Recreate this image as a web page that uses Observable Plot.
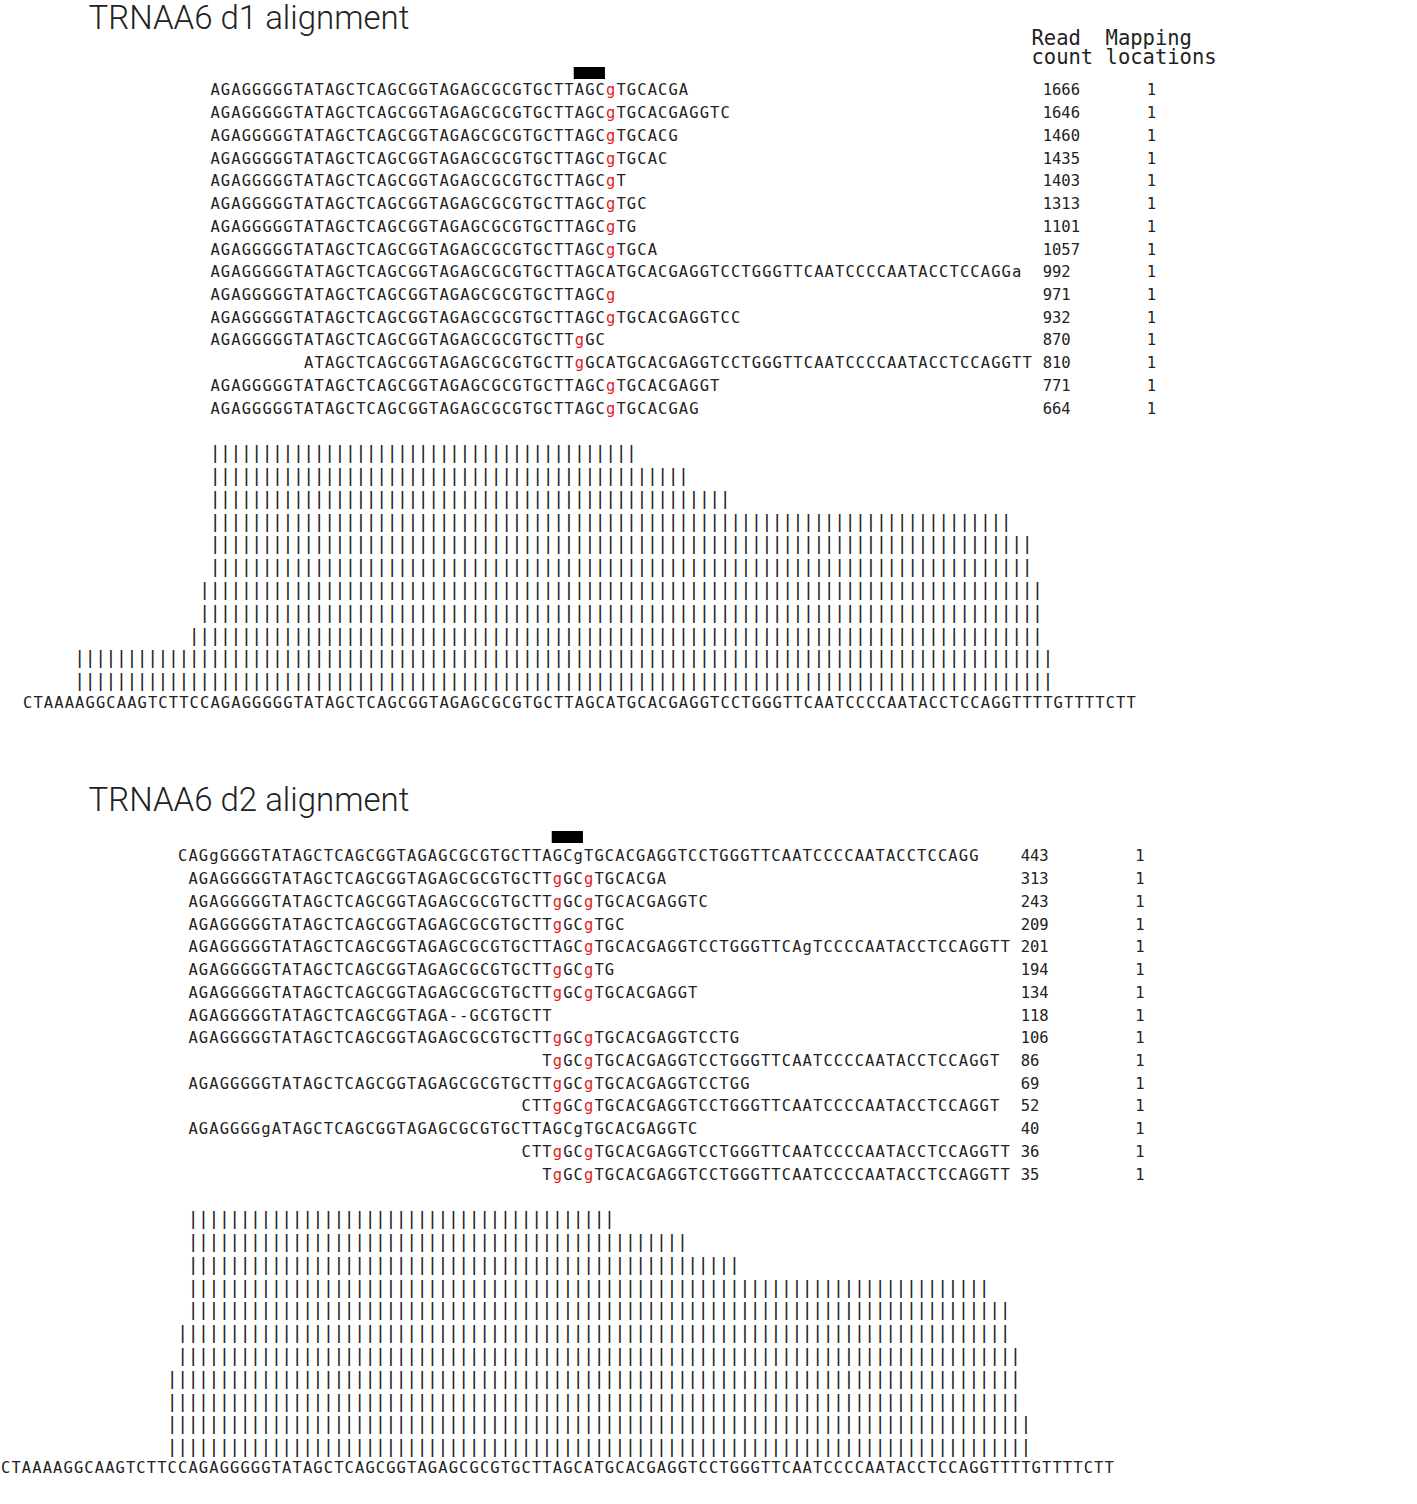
<!DOCTYPE html>
<html><head><meta charset="utf-8">
<script src="https://cdn.jsdelivr.net/npm/d3@7"></script>
<script src="https://cdn.jsdelivr.net/npm/@observablehq/plot@0.6"></script>
<style>body{margin:0;background:#fff}</style>
</head><body><div id="chart"></div>
<script>
// reference sequence shared by both panels
const refSeq = "CTAAAAGGCAAGTCTTCCAGAGGGGGTATAGCTCAGCGGTAGAGCGCGTGCTTAGCATGCACGAGGTCCTGGGTTCAATCCCCAATACCTCCAGGTTTTGTTTTCTT";
const redCols = [53, 56];     // mismatch columns drawn in red
const markCols = [53, 56];    // black box above the reads

const d1Reads = [
  "AGAGGGGGTATAGCTCAGCGGTAGAGCGCGTGCTTAGCgTGCACGA",
  "AGAGGGGGTATAGCTCAGCGGTAGAGCGCGTGCTTAGCgTGCACGAGGTC",
  "AGAGGGGGTATAGCTCAGCGGTAGAGCGCGTGCTTAGCgTGCACG",
  "AGAGGGGGTATAGCTCAGCGGTAGAGCGCGTGCTTAGCgTGCAC",
  "AGAGGGGGTATAGCTCAGCGGTAGAGCGCGTGCTTAGCgT",
  "AGAGGGGGTATAGCTCAGCGGTAGAGCGCGTGCTTAGCgTGC",
  "AGAGGGGGTATAGCTCAGCGGTAGAGCGCGTGCTTAGCgTG",
  "AGAGGGGGTATAGCTCAGCGGTAGAGCGCGTGCTTAGCgTGCA",
  "AGAGGGGGTATAGCTCAGCGGTAGAGCGCGTGCTTAGCATGCACGAGGTCCTGGGTTCAATCCCCAATACCTCCAGGa",
  "AGAGGGGGTATAGCTCAGCGGTAGAGCGCGTGCTTAGCg",
  "AGAGGGGGTATAGCTCAGCGGTAGAGCGCGTGCTTAGCgTGCACGAGGTCC",
  "AGAGGGGGTATAGCTCAGCGGTAGAGCGCGTGCTTgGC",
  "ATAGCTCAGCGGTAGAGCGCGTGCTTgGCATGCACGAGGTCCTGGGTTCAATCCCCAATACCTCCAGGTT",
  "AGAGGGGGTATAGCTCAGCGGTAGAGCGCGTGCTTAGCgTGCACGAGGT",
  "AGAGGGGGTATAGCTCAGCGGTAGAGCGCGTGCTTAGCgTGCACGAG"
];
const d1Starts = [18,18,18,18,18,18,18,18,18,18,18,18,27,18,18];
const d1Counts = [1666,1646,1460,1435,1403,1313,1101,1057,992,971,932,870,810,771,664];
const d1Maps = [1,1,1,1,1,1,1,1,1,1,1,1,1,1,1];
const d1Bars = [[18,58],[18,63],[18,67],[18,94],[18,96],[18,96],[17,97],[17,97],[16,97],[5,98],[5,98]];

const d2Reads = [
  "CAGgGGGGTATAGCTCAGCGGTAGAGCGCGTGCTTAGCgTGCACGAGGTCCTGGGTTCAATCCCCAATACCTCCAGG",
  "AGAGGGGGTATAGCTCAGCGGTAGAGCGCGTGCTTgGCgTGCACGA",
  "AGAGGGGGTATAGCTCAGCGGTAGAGCGCGTGCTTgGCgTGCACGAGGTC",
  "AGAGGGGGTATAGCTCAGCGGTAGAGCGCGTGCTTgGCgTGC",
  "AGAGGGGGTATAGCTCAGCGGTAGAGCGCGTGCTTAGCgTGCACGAGGTCCTGGGTTCAgTCCCCAATACCTCCAGGTT",
  "AGAGGGGGTATAGCTCAGCGGTAGAGCGCGTGCTTgGCgTG",
  "AGAGGGGGTATAGCTCAGCGGTAGAGCGCGTGCTTgGCgTGCACGAGGT",
  "AGAGGGGGTATAGCTCAGCGGTAGA--GCGTGCTT",
  "AGAGGGGGTATAGCTCAGCGGTAGAGCGCGTGCTTgGCgTGCACGAGGTCCTG",
  "TgGCgTGCACGAGGTCCTGGGTTCAATCCCCAATACCTCCAGGT",
  "AGAGGGGGTATAGCTCAGCGGTAGAGCGCGTGCTTgGCgTGCACGAGGTCCTGG",
  "CTTgGCgTGCACGAGGTCCTGGGTTCAATCCCCAATACCTCCAGGT",
  "AGAGGGGgATAGCTCAGCGGTAGAGCGCGTGCTTAGCgTGCACGAGGTC",
  "CTTgGCgTGCACGAGGTCCTGGGTTCAATCCCCAATACCTCCAGGTT",
  "TgGCgTGCACGAGGTCCTGGGTTCAATCCCCAATACCTCCAGGTT"
];
const d2Starts = [17,18,18,18,18,18,18,18,18,52,18,50,18,50,52];
const d2Counts = [443,313,243,209,201,194,134,118,106,86,69,52,40,36,35];
const d2Maps = [1,1,1,1,1,1,1,1,1,1,1,1,1,1,1];
const d2Bars = [[18,58],[18,65],[18,70],[18,94],[18,96],[17,96],[17,97],[16,97],[16,97],[16,98],[16,98]];

const cw = 10.41, readPitch = 22.72, barPitch = 22.8;
const panels = [
  {title: "TRNAA6 d1 alignment", x0: 22, titleY: 18, markY: 73, readY0: 90, barY0: 453, refY: 703,
   countCol: 98, mapCol: 108, reads: d1Reads, starts: d1Starts, counts: d1Counts, maps: d1Maps, bars: d1Bars},
  {title: "TRNAA6 d2 alignment", x0: 0, titleY: 800, markY: 837, readY0: 856, barY0: 1219, refY: 1468,
   countCol: 98, mapCol: 109, reads: d2Reads, starts: d2Starts, counts: d2Counts, maps: d2Maps, bars: d2Bars}
];

const chars = [], rows = [], bars = [];
panels.forEach(p => {
  p.reads.forEach((s, i) => {
    const y = p.readY0 + i * readPitch;
    [...s].forEach((c, k) => {
      const col = p.starts[i] + k;
      const red = c === "g" && redCols.includes(col);
      chars.push({x: p.x0 + (col + 0.5) * cw, y, c, fill: red ? "#e41a1c" : "#222"});
    });
    rows.push({x: p.x0 + p.countCol * cw, y, t: String(p.counts[i])});
    rows.push({x: p.x0 + p.mapCol * cw, y, t: String(p.maps[i])});
  });
  [...refSeq].forEach((c, k) => chars.push({x: p.x0 + (k + 0.5) * cw, y: p.refY, c, fill: "#222"}));
  p.bars.forEach(([a, b], i) => {
    for (let col = a; col <= b; col++) bars.push({x: p.x0 + (col + 0.5) * cw, y: p.barY0 + i * barPitch});
  });
});

const chart = Plot.plot({
  width: 1417, height: 1504,
  margin: 0,
  x: {type: "identity", axis: null},
  y: {type: "identity", axis: null},
  style: {background: "#fff"},
  marks: [
    Plot.text(panels, {x: 88, y: "titleY", text: "title", textAnchor: "start",
      fontSize: 33, fontFamily: "Roboto", fontWeight: 300, fill: "#222"}),
    Plot.rect(panels, {x1: p => p.x0 + markCols[0] * cw, x2: p => p.x0 + markCols[1] * cw,
      y1: p => p.markY - 6, y2: p => p.markY + 6, fill: "#000"}),
    Plot.text(chars, {x: "x", y: "y", text: "c", fill: "fill",
      fontSize: 15.5, fontFamily: "DejaVu Sans Mono"}),
    Plot.text(rows, {x: "x", y: "y", text: "t", textAnchor: "start", fill: "#222",
      fontSize: 15.5, fontFamily: "DejaVu Sans Mono"}),
    Plot.text(bars, {x: "x", y: "y", text: () => "|", fill: "#222",
      fontSize: 18, fontFamily: "DejaVu Sans Mono"}),
    Plot.text(["Read  Mapping", "count locations"], {x: 1031, y: (d, i) => 38 + i * 19, text: d => d,
      textAnchor: "start", fontSize: 20.5, fontFamily: "DejaVu Sans Mono", fill: "#222"})
  ]
});

d3.select('#chart').append(() => chart);
</script>
</body></html>
